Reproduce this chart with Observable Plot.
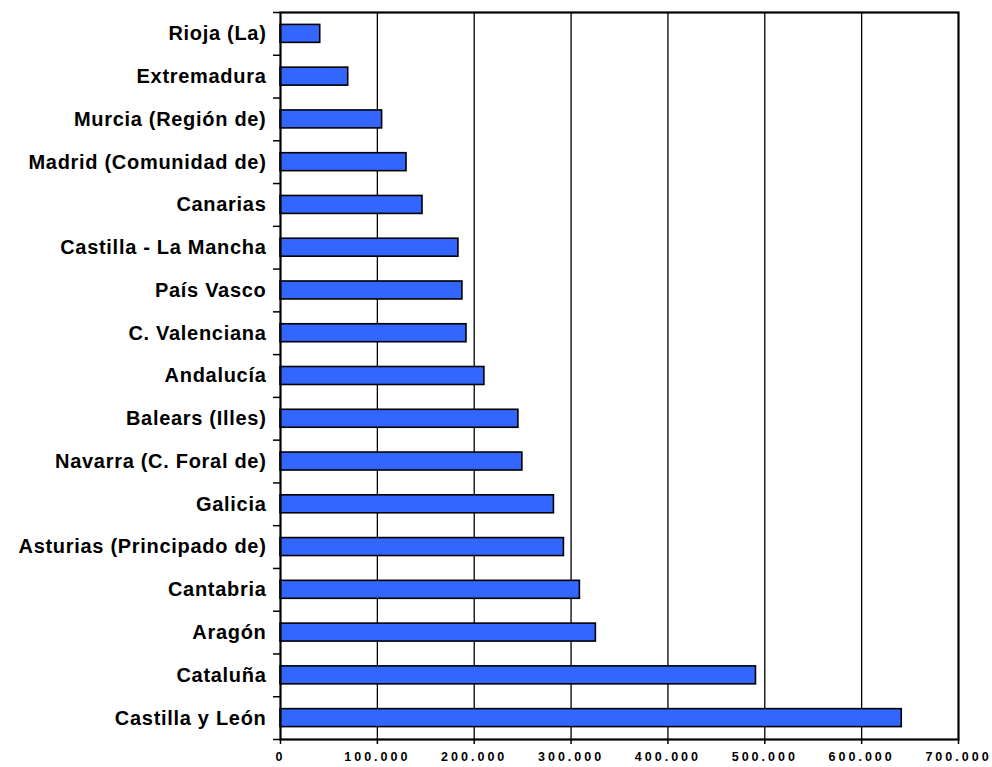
<!DOCTYPE html>
<html>
<head>
<meta charset="utf-8">
<script src="https://cdn.jsdelivr.net/npm/d3@7"></script>
<script src="https://cdn.jsdelivr.net/npm/@observablehq/plot@0.6"></script>
<style>
  html, body { margin: 0; padding: 0; background: #fff; }
  #chart svg { display: block; }
  #chart .xlab text { letter-spacing: 3px; }
  #chart .ylab text { letter-spacing: 0.7px; }
</style>
</head>
<body>
<div id="chart"></div>
<script>
const regions = [
  "Rioja (La)", "Extremadura", "Murcia (Región de)", "Madrid (Comunidad de)",
  "Canarias", "Castilla - La Mancha", "País Vasco", "C. Valenciana",
  "Andalucía", "Balears (Illes)", "Navarra (C. Foral de)", "Galicia",
  "Asturias (Principado de)", "Cantabria", "Aragón", "Cataluña", "Castilla y León"
];
const values = [
  41000, 69900, 104900, 130100,
  146600, 183700, 187800, 192000,
  210500, 245600, 249700, 282300,
  292600, 309100, 325600, 490900, 641400
];
const xTicks = [0, 100000, 200000, 300000, 400000, 500000, 600000, 700000];
const gridTicks = [100000, 200000, 300000, 400000, 500000, 600000];

const data = regions.map((r, i) => ({region: r, value: values[i]}));
const fmt = d3.formatLocale({thousands: ".", decimal: ",", grouping: [3], currency: ["", ""]}).format(",");

const W = 992, H = 767, mT = 12, mB = 28, mL = 280, mR = 34;
const step = (H - mT - mB) / regions.length;
const font = "'Liberation Sans', Arial, sans-serif";

const chart = Plot.plot({
  width: W, height: H,
  marginTop: mT, marginBottom: mB, marginLeft: mL, marginRight: mR,
  style: {fontFamily: font, color: "#000", background: "#fff"},
  x: {domain: [0, 700000], label: null},
  y: {domain: regions, paddingInner: 0.58, paddingOuter: 0.29, round: false, label: null},
  marks: [
    Plot.gridX(gridTicks, {stroke: "#000", strokeOpacity: 1, strokeWidth: 1.3}),
    Plot.barX(data, {x: "value", y: "region", fill: "#3366ff", stroke: "#000", strokeWidth: 1.6}),
    Plot.frame({stroke: "#000", strokeWidth: 2.2}),
    Plot.axisX(xTicks, {tickSize: 5, tickPadding: 8, tickFormat: fmt, fontSize: 12.5, fontWeight: "bold", className: "xlab", strokeWidth: 1.5, label: null}),
    Plot.axisY({tickSize: 0, tickPadding: 14, fontSize: 20, fontWeight: "bold", className: "ylab", label: null}),
    Plot.axisY(regions, {tickSize: 7, tickFormat: () => "", dy: step / 2, strokeWidth: 1.5, label: null}),
    Plot.axisY([regions[0]], {tickSize: 7, tickFormat: () => "", dy: -step / 2, strokeWidth: 1.5, label: null})
  ]
});
document.getElementById("chart").appendChild(chart);
</script>
</body>
</html>
